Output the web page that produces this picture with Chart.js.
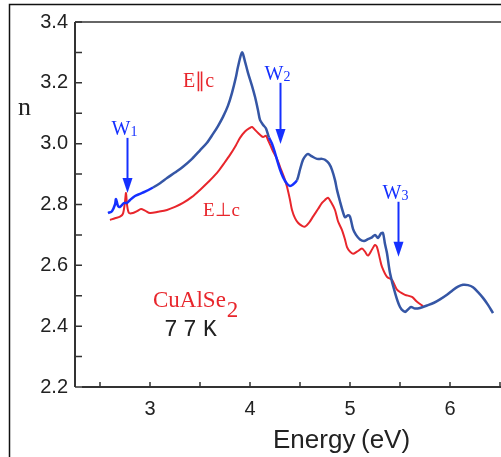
<!DOCTYPE html>
<html lang="en">

<head>
    <meta charset="UTF-8">
    <title>CuAlSe2 refractive index</title>
    <script src="https://cdn.jsdelivr.net/npm/chart.js"></script>
    <style>
        body { margin: 0; background: #fff; }
    </style>
</head>

<body>
    <canvas id="nChart" width="501" height="457"></canvas>
    <script>
        // E || c  (blue curve)
        const paraEnergy = [2.58, 2.62, 2.65, 2.66, 2.68, 2.70, 2.74, 2.77, 2.80, 2.85, 2.90, 2.95, 3.03, 3.10, 3.17, 3.25, 3.33, 3.42, 3.50, 3.57,
            3.63, 3.68, 3.73, 3.78, 3.82, 3.86, 3.88, 3.92, 3.95, 3.98, 4.02, 4.05, 4.08, 4.10, 4.13, 4.16, 4.19, 4.22, 4.25, 4.27,
            4.30, 4.33, 4.37, 4.40, 4.43, 4.47, 4.50, 4.53, 4.56, 4.58, 4.62, 4.67, 4.72, 4.75, 4.79, 4.82, 4.85, 4.87, 4.90, 4.93,
            4.95, 4.98, 5.00, 5.03, 5.06, 5.10, 5.14, 5.18, 5.22, 5.25, 5.28, 5.31, 5.33, 5.35, 5.37, 5.40, 5.45, 5.50, 5.55, 5.58,
            5.61, 5.65, 5.70, 5.77, 5.84, 5.90, 5.97, 6.03, 6.08, 6.13, 6.18, 6.23, 6.28, 6.33, 6.38, 6.43];
        const paraN = [2.772, 2.778, 2.800, 2.818, 2.795, 2.792, 2.805, 2.805, 2.815, 2.828, 2.835, 2.842, 2.856, 2.870, 2.887, 2.905, 2.924, 2.950, 2.978, 3.003,
            3.032, 3.058, 3.088, 3.125, 3.167, 3.220, 3.253, 3.300, 3.270, 3.233, 3.190, 3.154, 3.110, 3.078, 3.062, 3.050, 3.020, 3.000, 2.970, 2.947,
            2.915, 2.890, 2.868, 2.861, 2.866, 2.880, 2.915, 2.947, 2.962, 2.966, 2.958, 2.950, 2.950, 2.947, 2.935, 2.914, 2.880, 2.848, 2.810, 2.775,
            2.758, 2.765, 2.760, 2.720, 2.700, 2.685, 2.680, 2.686, 2.692, 2.700, 2.690, 2.705, 2.706, 2.670, 2.640, 2.575, 2.510, 2.463, 2.447, 2.455,
            2.463, 2.458, 2.460, 2.468, 2.477, 2.488, 2.503, 2.519, 2.530, 2.536, 2.535, 2.528, 2.512, 2.493, 2.470, 2.443];

        // E ⊥ c  (red curve)
        const perpEnergy = [2.60, 2.65, 2.70, 2.73, 2.75, 2.76, 2.77, 2.79, 2.83, 2.87, 2.91, 2.95, 3.00, 3.08, 3.17, 3.25, 3.33, 3.42, 3.50, 3.58,
            3.67, 3.74, 3.80, 3.86, 3.90, 3.95, 4.00, 4.02, 4.06, 4.10, 4.13, 4.16, 4.18, 4.21, 4.23, 4.27, 4.30, 4.34, 4.37, 4.40,
            4.42, 4.45, 4.48, 4.52, 4.55, 4.59, 4.63, 4.68, 4.72, 4.75, 4.78, 4.81, 4.85, 4.88, 4.92, 4.95, 4.97, 5.00, 5.03, 5.07,
            5.12, 5.15, 5.18, 5.22, 5.25, 5.27, 5.30, 5.32, 5.37, 5.42, 5.47, 5.51, 5.55, 5.62, 5.67, 5.73];
        const perpN = [2.749, 2.755, 2.760, 2.770, 2.810, 2.838, 2.800, 2.772, 2.772, 2.778, 2.785, 2.780, 2.772, 2.776, 2.782, 2.792, 2.805, 2.825, 2.848, 2.873,
            2.904, 2.935, 2.963, 2.995, 3.019, 3.040, 3.052, 3.055, 3.042, 3.029, 3.022, 3.026, 3.012, 2.990, 2.975, 2.950, 2.924, 2.890, 2.858, 2.815,
            2.782, 2.755, 2.740, 2.730, 2.727, 2.740, 2.760, 2.785, 2.805, 2.815, 2.822, 2.808, 2.782, 2.745, 2.716, 2.685, 2.660, 2.645, 2.638, 2.645,
            2.655, 2.645, 2.632, 2.652, 2.667, 2.660, 2.620, 2.595, 2.562, 2.552, 2.520, 2.510, 2.503, 2.496, 2.480, 2.466];

        // transition markers: energy, arrow start n, arrow tip n
        const markLabels = ['1', '2', '3'];
        const markEnergy = [2.77, 4.30, 5.48];
        const markFrom = [3.019, 3.200, 2.809];
        const markTo = [2.838, 2.999, 2.628];

        const xTicks = [3, 4, 5, 6];
        const yTicks = [2.2, 2.4, 2.6, 2.8, 3.0, 3.2, 3.4];

        const RED = '#e8262c';
        const BLUE = '#3556a5';
        const BRIGHT = '#1530ff';

        function toPoints(xs, ys) {
            return xs.map((x, i) => ({ x: x, y: ys[i] }));
        }

        // frame, axes and inward ticks
        const framePlugin = {
            id: 'frame',
            beforeDraw(chart) {
                const ctx = chart.ctx;
                const a = chart.chartArea;
                const xs = chart.scales.x;
                const ys = chart.scales.y;
                ctx.save();
                ctx.strokeStyle = '#111';
                ctx.lineWidth = 1.5;
                ctx.beginPath();
                ctx.moveTo(9.5, chart.height);
                ctx.lineTo(9.5, 4.5);
                ctx.lineTo(chart.width, 4.5);
                ctx.stroke();

                ctx.strokeStyle = '#666';
                ctx.lineWidth = 2;
                ctx.beginPath();
                ctx.moveTo(a.left, a.top);
                ctx.lineTo(chart.width, a.top);
                ctx.stroke();

                ctx.strokeStyle = '#333';
                ctx.beginPath();
                ctx.moveTo(a.left, a.top);
                ctx.lineTo(a.left, a.bottom);
                ctx.moveTo(a.left + 7, a.bottom);
                ctx.lineTo(chart.width, a.bottom);
                ctx.stroke();

                ctx.lineWidth = 1.5;
                ctx.beginPath();
                for (let v = ys.min; v <= ys.max + 1e-6; v += 0.1) {
                    const py = ys.getPixelForValue(v);
                    ctx.moveTo(a.left, py);
                    ctx.lineTo(a.left + 7, py);
                }
                for (let v = 2.5; v <= xs.max + 1e-6; v += 0.5) {
                    const px = xs.getPixelForValue(v);
                    ctx.moveTo(px, a.bottom);
                    ctx.lineTo(px, a.bottom - 5);
                }
                ctx.stroke();
                ctx.restore();
            },
            afterDraw(chart) {
                const ctx = chart.ctx;
                const xs = chart.scales.x;
                const ys = chart.scales.y;
                ctx.save();

                // W arrows
                ctx.strokeStyle = BRIGHT;
                ctx.fillStyle = BRIGHT;
                ctx.lineWidth = 2;
                for (let i = 0; i < markEnergy.length; i++) {
                    const px = Math.round(xs.getPixelForValue(markEnergy[i])) + 0.5;
                    const top = ys.getPixelForValue(markFrom[i]);
                    const tip = ys.getPixelForValue(markTo[i]);
                    ctx.beginPath();
                    ctx.moveTo(px, top);
                    ctx.lineTo(px, tip - 12);
                    ctx.stroke();
                    ctx.beginPath();
                    ctx.moveTo(px - 5, tip - 15);
                    ctx.lineTo(px + 5, tip - 15);
                    ctx.lineTo(px, tip);
                    ctx.closePath();
                    ctx.fill();

                    ctx.textBaseline = 'alphabetic';
                    ctx.font = '20px "Liberation Serif"';
                    ctx.fillText('W', px - 16, top - 3);
                    ctx.font = '14px "Liberation Serif"';
                    ctx.fillText(markLabels[i], px + 3, top - 2);
                }

                // polarisation labels
                ctx.fillStyle = RED;
                ctx.font = '20px "Liberation Serif"';
                ctx.fillText('E\u2225c', 183, 87);
                ctx.font = '19px "Liberation Serif"';
                ctx.fillText('E\u22A5c', 203, 216);

                ctx.font = '23px "Liberation Serif"';
                ctx.fillText('CuAlSe', 153, 307);
                const w = ctx.measureText('CuAlSe').width;
                ctx.fillText('2', 153 + w + 1, 317);

                ctx.fillStyle = '#222';
                ctx.font = '23px "Liberation Mono"';
                ctx.fillText('7', 164, 336);
                ctx.fillText('7', 183, 336);
                ctx.fillText('K', 203, 336);

                // axis titles
                ctx.font = '26px "Liberation Serif"';
                ctx.fillText('n', 18, 115);
                ctx.font = '26px "Liberation Sans"';
                ctx.fillText('Energy', 273, 448);
                ctx.fillText('(eV)', 361, 448);
                ctx.restore();
            }
        };

        const ctx = document.getElementById('nChart').getContext('2d');

        new Chart(ctx, {
            type: 'line',
            data: {
                datasets: [
                    {
                        label: 'E || c',
                        data: toPoints(paraEnergy, paraN),
                        borderColor: BLUE,
                        borderWidth: 2.5,
                        pointRadius: 0,
                        tension: 0.3,
                        fill: false,
                        segment: {
                            borderColor: c => {
                                const e = c.p0.parsed.x;
                                return (e < 2.98 || (e >= 4.18 && e < 4.45)) ? BRIGHT : BLUE;
                            }
                        }
                    },
                    {
                        label: 'E ⊥ c',
                        data: toPoints(perpEnergy, perpN),
                        borderColor: RED,
                        borderWidth: 2,
                        pointRadius: 0,
                        tension: 0.3,
                        fill: false
                    }
                ]
            },
            options: {
                responsive: false,
                animation: false,
                layout: { padding: { top: 22, right: 1, left: 0, bottom: 0 } },
                plugins: {
                    legend: { display: false },
                    tooltip: { enabled: false }
                },
                scales: {
                    x: {
                        type: 'linear',
                        min: 2.25,
                        max: 6.5,
                        afterFit: s => { s.height = 70; },
                        afterBuildTicks: s => { s.ticks = xTicks.map(v => ({ value: v })); },
                        grid: { display: false, drawTicks: false },
                        border: { display: false },
                        ticks: {
                            autoSkip: false,
                            maxRotation: 0,
                            padding: 10,
                            color: '#222',
                            font: { family: 'Liberation Sans', size: 20 }
                        }
                    },
                    y: {
                        min: 2.2,
                        max: 3.4,
                        afterFit: s => { s.width = 75; },
                        afterBuildTicks: s => { s.ticks = yTicks.map(v => ({ value: v })); },
                        grid: { display: false, drawTicks: false },
                        border: { display: false },
                        ticks: {
                            padding: 7,
                            color: '#222',
                            font: { family: 'Liberation Sans', size: 20 },
                            callback: v => v.toFixed(1)
                        }
                    }
                }
            },
            plugins: [framePlugin]
        });
    </script>
</body>

</html>
